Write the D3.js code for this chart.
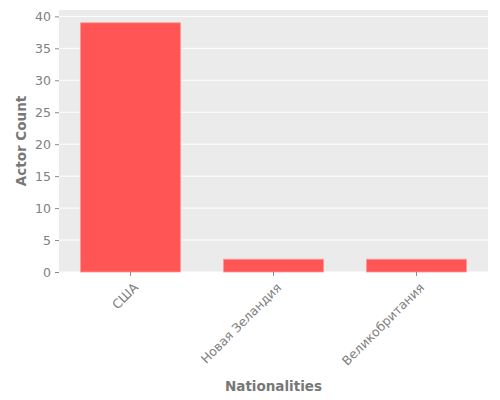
<!DOCTYPE html>
<html>
<head>
<meta charset="utf-8">
<script src="https://cdn.jsdelivr.net/npm/d3@7"></script>
<style>
  body { margin: 0; background: #fff; }
  text { font-family: "DejaVu Sans", sans-serif; }
</style>
</head>
<body>
<script>
  // data
  const countries = ["США", "Новая Зеландия", "Великобритания"];
  const counts = [39, 2, 2];
  const yTicks = [0, 5, 10, 15, 20, 25, 30, 35, 40];

  const width = 500, height = 400;
  const marge = { top: 10, right: 12, bottom: 128, left: 59 };

  const svg = d3.select("body").append("svg")
    .attr("width", width)
    .attr("height", height);

  const x = d3.scaleBand()
    .domain(countries)
    .range([marge.left, width - marge.right])
    .paddingInner(0.3)
    .paddingOuter(0.15);

  const y = d3.scaleLinear()
    .domain([0, 41])
    .range([height - marge.bottom, marge.top]);

  // background panel
  svg.append("rect")
    .attr("x", marge.left)
    .attr("y", marge.top)
    .attr("width", width - marge.left - marge.right)
    .attr("height", height - marge.top - marge.bottom)
    .attr("fill", "#ebebeb");

  // grid lines
  svg.append("g")
    .selectAll("line")
    .data(yTicks)
    .enter()
    .append("line")
    .attr("x1", marge.left)
    .attr("x2", width - marge.right)
    .attr("y1", d => y(d))
    .attr("y2", d => y(d))
    .attr("stroke", "#fff")
    .attr("stroke-width", 1);

  // bars
  svg.append("g")
    .selectAll("rect")
    .data(countries)
    .enter()
    .append("rect")
    .attr("x", d => x(d))
    .attr("width", x.bandwidth())
    .attr("y", (d, i) => y(counts[i]))
    .attr("height", (d, i) => y(0) - y(counts[i]))
    .attr("fill", "#ff5555")
    .attr("stroke", "#ff9a9a")
    .attr("stroke-width", 0.8);

  // y axis
  const yAxis = svg.append("g")
    .attr("transform", `translate(${marge.left},0)`)
    .call(d3.axisLeft(y).tickValues(yTicks).tickSize(4).tickPadding(4));
  yAxis.select(".domain").remove();
  yAxis.selectAll("line").attr("stroke", "#8a8a8a");
  yAxis.selectAll("text").attr("fill", "#808080").style("font-size", "12.5px");

  // x axis
  const xAxis = svg.append("g")
    .attr("transform", `translate(0,${height - marge.bottom})`)
    .call(d3.axisBottom(x).tickSize(4).tickPadding(4));
  xAxis.select(".domain").remove();
  xAxis.selectAll("line").attr("stroke", "#8a8a8a");
  xAxis.selectAll("text")
    .attr("fill", "#808080")
    .style("font-size", "12.5px")
    .attr("text-anchor", "end")
    .attr("dx", "0.3em")
    .attr("dy", "0.6em")
    .attr("transform", "translate(-5,8) rotate(-45)");

  // axis titles
  svg.append("text")
    .attr("x", (marge.left + width - marge.right) / 2)
    .attr("y", 391)
    .attr("text-anchor", "middle")
    .attr("fill", "#777")
    .style("font-size", "13.5px")
    .style("font-weight", "bold")
    .text("Nationalities");

  svg.append("text")
    .attr("transform", `translate(26,${(marge.top + height - marge.bottom) / 2}) rotate(-90)`)
    .attr("text-anchor", "middle")
    .attr("fill", "#777")
    .style("font-size", "13.5px")
    .style("font-weight", "bold")
    .text("Actor Count");
</script>
</body>
</html>
